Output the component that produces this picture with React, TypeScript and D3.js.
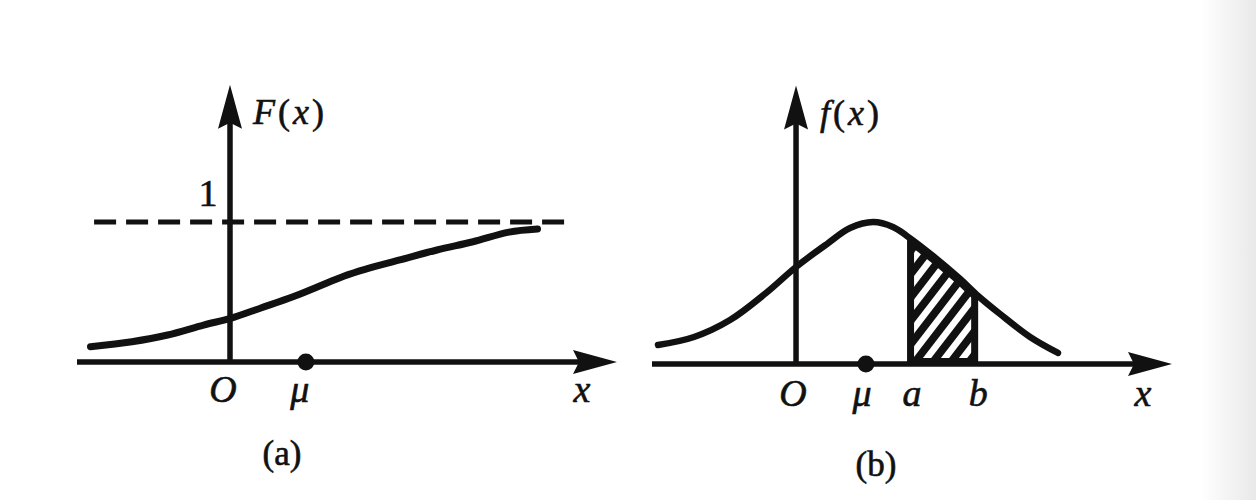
import * as d3 from "d3";

// (a) distribution function F(x)
const cdfX = [-4.65, -3.27, -2.08, -0.88, 0.02, 1.03, 2.1, 2.95, 3.79, 4.5, 5.7, 6.9, 8.1, 9.3, 10.25];
const cdfY = [0.109, 0.145, 0.193, 0.264, 0.312, 0.386, 0.466, 0.54, 0.613, 0.662, 0.731, 0.8, 0.859, 0.928, 0.95];
const levelOne = [-4.53, 11.2];
const muA = 2.53;

// (b) density f(x)
const pdfX = [-4.6, -3.4, -2.2, -1.0, 0, 1.03, 1.8, 2.57, 3.23, 3.7, 4.57, 5.47, 6.07, 6.8, 7.8, 8.73];
const pdfY = [0.136, 0.193, 0.314, 0.507, 0.693, 0.857, 0.971, 1.014, 0.979, 0.914, 0.771, 0.607, 0.486, 0.357, 0.193, 0.079];
const muB = 2.33;
const bandB = [3.7, 6.07];

const labelsA = ["O", "μ", "x"];
const labelsB = ["O", "μ", "a", "b", "x"];

const FONT = "'Liberation Serif', 'Times New Roman', serif";
const INK = "#111";

const xA = d3.scaleLinear().domain([-5.1, 12.9]).range([77, 617]);
const yA = d3.scaleLinear().domain([0, 1]).range([362, 222]);
const xB = d3.scaleLinear().domain([-4.8, 12.53]).range([652, 1172]);
const yB = d3.scaleLinear().domain([0, 1]).range([364, 224]);

// arrow head pointing right (dir "r") or up (dir "u")
function arrow(tx: number, ty: number, dir: "r" | "u") {
  const len = 44, hw = 12, notch = 6;
  if (dir === "r")
    return `M${tx},${ty} L${tx - len},${ty - hw} L${tx - len + notch},${ty} L${tx - len},${ty + hw} Z`;
  return `M${tx},${ty} L${tx - hw},${ty + len} L${tx},${ty + len - notch} L${tx + hw},${ty + len} Z`;
}

function Label({ x, y, children, italic = true, size = 38 }: any) {
  return (
    <text x={x} y={y} fontFamily={FONT} fontSize={size} fontStyle={italic ? "italic" : "normal"}
      textAnchor="middle" fill={INK} stroke={INK} strokeWidth={0.6}>
      {children}
    </text>
  );
}

export default function App() {
  const cdf = cdfX.map((x, i) => [x, cdfY[i]] as [number, number]);
  const pdf = pdfX.map((x, i) => [x, pdfY[i]] as [number, number]);

  const lineA = d3.line<[number, number]>().x((d) => xA(d[0])).y((d) => yA(d[1])).curve(d3.curveCatmullRom.alpha(0.5));
  const lineB = d3.line<[number, number]>().x((d) => xB(d[0])).y((d) => yB(d[1])).curve(d3.curveCatmullRom.alpha(0.5));
  const areaB = d3
    .area<[number, number]>()
    .x((d) => xB(d[0]))
    .y0(yB(0))
    .y1((d) => yB(d[1]))
    .curve(d3.curveCatmullRom.alpha(0.5));

  const xa = xB(bandB[0]);
  const xb = xB(bandB[1]);
  const base = yB(0);
  // white hatch lines across the band
  const slope = 1.3;
  const stripes = d3.range(-12, 14).map((k) => {
    const x0 = xa + k * 18;
    return { x1: x0, y1: base + 20, x2: x0 + 200 / slope, y2: base + 20 - 200 };
  });

  const axisA = { x0: xA.range()[0], x1: xA.range()[1], y: yA(0), ox: xA(0) };
  const axisB = { x0: xB.range()[0], x1: xB.range()[1], y: yB(0), ox: xB(0) };

  const labelPosA = [xA(0) - 7, xA(muA) - 6, xA(12.9) - 35];
  const labelPosB = [xB(0) - 3, xB(muB) - 4, xB(bandB[0]) + 5, xB(bandB[1]), xB(12.53) - 29];

  return (
    <svg width={1256} height={500} style={{ position: "absolute", left: 0, top: 0, background: "#fff" }}>
      <defs>
        <linearGradient id="edge" x1="0" x2="1" y1="0" y2="0">
          <stop offset="0" stopColor="#ffffff" />
          <stop offset="1" stopColor="#e9e9e9" />
        </linearGradient>
        <clipPath id="under-b">
          <path d={areaB(pdf) || ""} />
        </clipPath>
        <clipPath id="under-b-in">
          <path d={areaB(pdf) || ""} transform="translate(0,8)" />
        </clipPath>
        <clipPath id="band-in">
          <rect x={xa + 7} y={0} width={xb - xa - 14} height={base - 6} />
        </clipPath>
      </defs>
      <rect x={1200} y={0} width={56} height={500} fill="url(#edge)" />

      {/* (a) */}
      <line x1={xA(levelOne[0])} x2={xA(levelOne[1])} y1={yA(1)} y2={yA(1)} stroke={INK} strokeWidth={5} strokeDasharray="22 10" />
      <line x1={axisA.x0} x2={axisA.x1 - 30} y1={axisA.y} y2={axisA.y} stroke={INK} strokeWidth={5.5} />
      <path d={arrow(axisA.x1, axisA.y, "r")} fill={INK} />
      <line x1={axisA.ox} x2={axisA.ox} y1={axisA.y} y2={yA(1.98) + 30} stroke={INK} strokeWidth={5.5} />
      <path d={arrow(axisA.ox, yA(1.98), "u")} fill={INK} />
      <path d={lineA(cdf) || ""} fill="none" stroke={INK} strokeWidth={7} strokeLinecap="round" />
      <circle cx={xA(muA)} cy={yA(0)} r={8.5} fill={INK} />
      <Label x={208} y={206} italic={false}>1</Label>
      <text x={253} y={124} fontFamily={FONT} fontSize={36} fill={INK} stroke={INK} strokeWidth={0.6} letterSpacing={3}>
        <tspan fontStyle="italic">F</tspan>(<tspan fontStyle="italic">x</tspan>)
      </text>
      {labelsA.map((t, i) => (
        <Label key={t} x={labelPosA[i]} y={402}>{t}</Label>
      ))}
      <Label x={282} y={465} italic={false} size={35}>(a)</Label>

      {/* (b) */}
      <g clipPath="url(#under-b)">
        <rect x={xa} y={0} width={xb - xa} height={base} fill={INK} />
      </g>
      <g clipPath="url(#band-in)">
        <g clipPath="url(#under-b-in)">
          {stripes.map((s, i) => (
            <line key={i} x1={s.x1} y1={s.y1} x2={s.x2} y2={s.y2} stroke="#fff" strokeWidth={6.5} />
          ))}
        </g>
      </g>
      <line x1={axisB.x0} x2={axisB.x1 - 30} y1={axisB.y} y2={axisB.y} stroke={INK} strokeWidth={5.5} />
      <path d={arrow(axisB.x1, axisB.y, "r")} fill={INK} />
      <line x1={axisB.ox} x2={axisB.ox} y1={axisB.y} y2={yB(1.99) + 30} stroke={INK} strokeWidth={5.5} />
      <path d={arrow(axisB.ox, yB(1.99), "u")} fill={INK} />
      <path d={lineB(pdf) || ""} fill="none" stroke={INK} strokeWidth={6.5} strokeLinecap="round" />
      <circle cx={xB(muB)} cy={yB(0)} r={8.5} fill={INK} />
      <text x={820} y={125} fontFamily={FONT} fontSize={36} fill={INK} stroke={INK} strokeWidth={0.6} letterSpacing={3}>
        <tspan fontStyle="italic">f</tspan>(<tspan fontStyle="italic">x</tspan>)
      </text>
      {labelsB.map((t, i) => (
        <Label key={t} x={labelPosB[i]} y={406}>{t}</Label>
      ))}
      <Label x={876} y={476} italic={false} size={35}>(b)</Label>
    </svg>
  );
}
